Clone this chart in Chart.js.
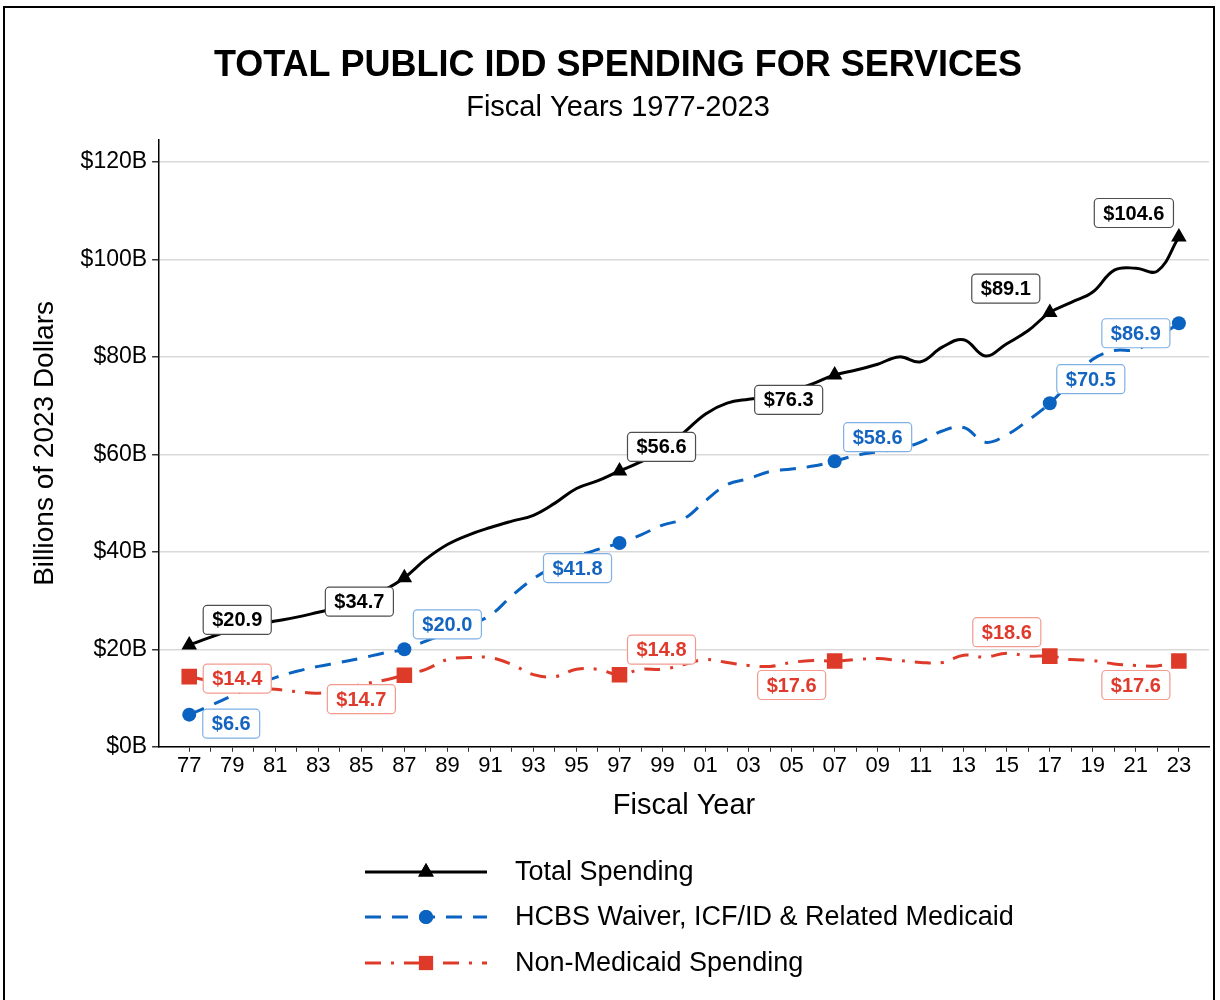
<!DOCTYPE html>
<html>
<head>
<meta charset="utf-8">
<script src="https://cdn.jsdelivr.net/npm/chart.js@4.4.1/dist/chart.umd.min.js"></script>
<style>
  html, body { margin: 0; padding: 0; background: #fff; }
  #wrap { width: 1220px; height: 1000px; position: relative; }
</style>
</head>
<body>
<div id="wrap"><canvas id="lineChart" width="1220" height="1000"></canvas></div>
<script>
// fiscal years on the x axis
const years = [1977, 1978, 1979, 1980, 1981, 1982, 1983, 1984, 1985, 1986,
               1987, 1988, 1989, 1990, 1991, 1992, 1993, 1994, 1995, 1996,
               1997, 1998, 1999, 2000, 2001, 2002, 2003, 2004, 2005, 2006,
               2007, 2008, 2009, 2010, 2011, 2012, 2013, 2014, 2015, 2016,
               2017, 2018, 2019, 2020, 2021, 2022, 2023];

// billions of 2023 dollars
const totalSpending = [20.9, 22.5, 24.0, 25.0, 25.8, 26.6, 27.6, 28.6, 30.0, 32.0,
                       34.7, 38.5, 41.5, 43.5, 45.0, 46.3, 47.5, 50.0, 53.0, 54.6,
                       56.6, 58.5, 61.0, 64.5, 68.3, 70.5, 71.3, 71.8, 73.0, 74.5,
                       76.3, 77.3, 78.5, 80.0, 79.0, 82.0, 83.5, 80.2, 82.7, 85.4,
                       89.1, 91.2, 93.3, 97.8, 98.2, 97.6, 104.6];

const medicaidSpending = [6.6, 8.5, 10.5, 12.5, 14.2, 15.5, 16.5, 17.3, 18.2, 19.2,
                          20.0, 21.7, 23.3, 25.0, 27.0, 31.0, 34.5, 37.0, 39.0, 40.5,
                          41.8, 43.5, 45.5, 46.8, 50.5, 53.8, 55.0, 56.5, 57.0, 57.6,
                          58.6, 59.8, 60.5, 61.2, 62.5, 64.8, 65.5, 62.5, 64.0, 67.0,
                          70.5, 75.0, 79.5, 81.3, 81.5, 84.0, 86.9];

const nonMedicaidSpending = [14.4, 13.5, 12.8, 12.2, 11.8, 11.3, 11.0, 11.6, 12.8, 13.6,
                             14.7, 15.9, 17.9, 18.3, 18.3, 16.9, 14.8, 14.4, 15.9, 15.9,
                             14.8, 15.9, 15.9, 16.9, 17.9, 17.3, 16.7, 16.5, 17.3, 17.7,
                             17.6, 17.9, 18.1, 17.7, 17.3, 17.3, 18.8, 18.4, 19.2, 18.6,
                             18.6, 17.9, 17.7, 17.0, 16.7, 16.6, 17.6];

// years that get a marker and a value label
const markerYears = [1977, 1987, 1997, 2007, 2017, 2023];

const seriesNames = ['Total Spending', 'HCBS Waiver, ICF/ID & Related Medicaid', 'Non-Medicaid Spending'];
const yTickValues = [0, 20, 40, 60, 80, 100, 120];

const BLACK = '#000000';
const BLUE = '#0B63C1';
const RED = '#DE3A2A';
const FONT = '"Liberation Sans", Arial, sans-serif';

// where each value label sits relative to its point (px)
const labelOffsets = [
    [[48, -25], [-45, 24], [42, -24], [-46, 25], [-44, -24], [-45, -24]],
    [[42, 9], [43, -25], [-42, 25], [43, -24], [41, -24], [-43, 10]],
    [[48, 2], [-43, 24], [42, -25], [-43, 24], [-43, -24], [-43, 24]]
];
const labelStyles = [
    { text: '#000000', border: '#4d4d4d' },
    { text: '#1565C0', border: '#7FB0E4' },
    { text: '#E03A2C', border: '#F29A90' }
];

function markerRadius(r) {
    return ctx => markerYears.includes(years[ctx.dataIndex]) ? r : 0;
}

function toPoints(values) {
    return values.map((v, i) => ({ x: years[i], y: v }));
}

const valueLabels = {
    id: 'valueLabels',
    afterDatasetsDraw(chart) {
        const c = chart.ctx;
        c.save();
        c.font = 'bold 20px ' + FONT;
        c.textAlign = 'center';
        c.textBaseline = 'middle';
        chart.data.datasets.forEach((ds, di) => {
            const meta = chart.getDatasetMeta(di);
            markerYears.forEach((yr, k) => {
                const idx = years.indexOf(yr);
                const pt = meta.data[idx];
                const txt = '$' + ds.data[idx].y.toFixed(1);
                const cx = pt.x + labelOffsets[di][k][0];
                const cy = pt.y + labelOffsets[di][k][1];
                const w = c.measureText(txt).width + 18;
                const h = 29;
                c.beginPath();
                c.roundRect(cx - w / 2, cy - h / 2, w, h, 4);
                c.fillStyle = '#ffffff';
                c.fill();
                c.lineWidth = 1.2;
                c.strokeStyle = labelStyles[di].border;
                c.stroke();
                c.fillStyle = labelStyles[di].text;
                c.fillText(txt, cx, cy + 1);
            });
        });
        c.restore();
    }
};

const bottomLegend = {
    id: 'bottomLegend',
    afterDraw(chart) {
        const c = chart.ctx;
        c.save();
        const rows = [872, 917, 963];
        chart.data.datasets.forEach((ds, di) => {
            const y = rows[di];
            c.strokeStyle = ds.borderColor;
            c.lineWidth = 3;
            c.setLineDash(ds.borderDash || []);
            c.beginPath();
            c.moveTo(365, y);
            c.lineTo(487, y);
            c.stroke();
            c.setLineDash([]);
            c.fillStyle = ds.borderColor;
            Chart.helpers.drawPoint(c, { pointStyle: ds.pointStyle, radius: [9, 7, 10][di], borderWidth: 0 }, 426, y);
            c.fill();
            c.fillStyle = '#000';
            c.font = '27px ' + FONT;
            c.textAlign = 'left';
            c.textBaseline = 'middle';
            c.fillText(seriesNames[di], 515, y + 1);
        });
        // outer frame
        c.strokeStyle = '#000';
        c.lineWidth = 2;
        c.strokeRect(4, 7, 1210, 1000);
        c.restore();
    }
};

document.addEventListener('DOMContentLoaded', function () {
    const ctx = document.getElementById('lineChart').getContext('2d');
    new Chart(ctx, {
        type: 'line',
        data: {
            datasets: [{
                label: seriesNames[0],
                data: toPoints(totalSpending),
                borderColor: BLACK,
                backgroundColor: BLACK,
                borderWidth: 3,
                tension: 0.4,
                pointStyle: 'triangle',
                pointRadius: markerRadius(9),
                pointBorderWidth: 0,
                fill: false
            }, {
                label: seriesNames[1],
                data: toPoints(medicaidSpending),
                borderColor: BLUE,
                backgroundColor: BLUE,
                borderWidth: 3,
                borderDash: [16, 11],
                tension: 0.4,
                pointStyle: 'circle',
                pointRadius: markerRadius(7),
                pointBorderWidth: 0,
                fill: false
            }, {
                label: seriesNames[2],
                data: toPoints(nonMedicaidSpending),
                borderColor: RED,
                backgroundColor: RED,
                borderWidth: 3,
                borderDash: [16, 10, 3, 10],
                tension: 0.4,
                pointStyle: 'rect',
                pointRadius: markerRadius(11),
                pointBorderWidth: 0,
                fill: false
            }]
        },
        options: {
            responsive: false,
            maintainAspectRatio: false,
            animation: false,
            layout: { padding: { left: 24, right: 8, top: 0, bottom: 173 } },
            plugins: {
                legend: { display: false },
                tooltip: { enabled: false },
                title: {
                    display: true,
                    text: 'TOTAL PUBLIC IDD SPENDING FOR SERVICES',
                    color: '#000',
                    font: { family: FONT, size: 36, weight: 'bold' },
                    padding: { top: 44, bottom: 3 }
                },
                subtitle: {
                    display: true,
                    text: 'Fiscal Years 1977-2023',
                    color: '#000',
                    font: { family: FONT, size: 29 },
                    padding: { bottom: 15 }
                }
            },
            scales: {
                x: {
                    type: 'linear',
                    min: 1975.6,
                    max: 2024.4,
                    afterBuildTicks: scale => {
                        scale.ticks = years.map(v => ({ value: v }));
                    },
                    ticks: {
                        autoSkip: false,
                        maxRotation: 0,
                        color: '#000',
                        padding: 1,
                        font: { family: FONT, size: 22 },
                        callback: v => (v % 2 === 1 ? String(v % 100).padStart(2, '0') : '')
                    },
                    grid: { drawOnChartArea: false, drawTicks: true, tickLength: 5, color: '#333', lineWidth: 1 },
                    border: { display: true, color: '#000', width: 1.5 },
                    title: {
                        display: true,
                        text: 'Fiscal Year',
                        color: '#000',
                        font: { family: FONT, size: 29 },
                        padding: { top: 8 }
                    }
                },
                y: {
                    min: 0,
                    max: 124.5,
                    afterBuildTicks: scale => {
                        scale.ticks = yTickValues.map(v => ({ value: v }));
                    },
                    ticks: {
                        color: '#000',
                        padding: 5,
                        font: { family: FONT, size: 23 },
                        callback: v => '$' + v + 'B'
                    },
                    grid: { color: '#d9d9d9', lineWidth: 1.5, drawTicks: true, tickLength: 7, tickColor: '#333' },
                    border: { display: true, color: '#000', width: 1.5 },
                    title: {
                        display: true,
                        text: 'Billions of 2023 Dollars',
                        color: '#000',
                        font: { family: FONT, size: 28 },
                        padding: { bottom: 14 }
                    }
                }
            }
        },
        plugins: [valueLabels, bottomLegend]
    });
});
</script>
</body>
</html>
